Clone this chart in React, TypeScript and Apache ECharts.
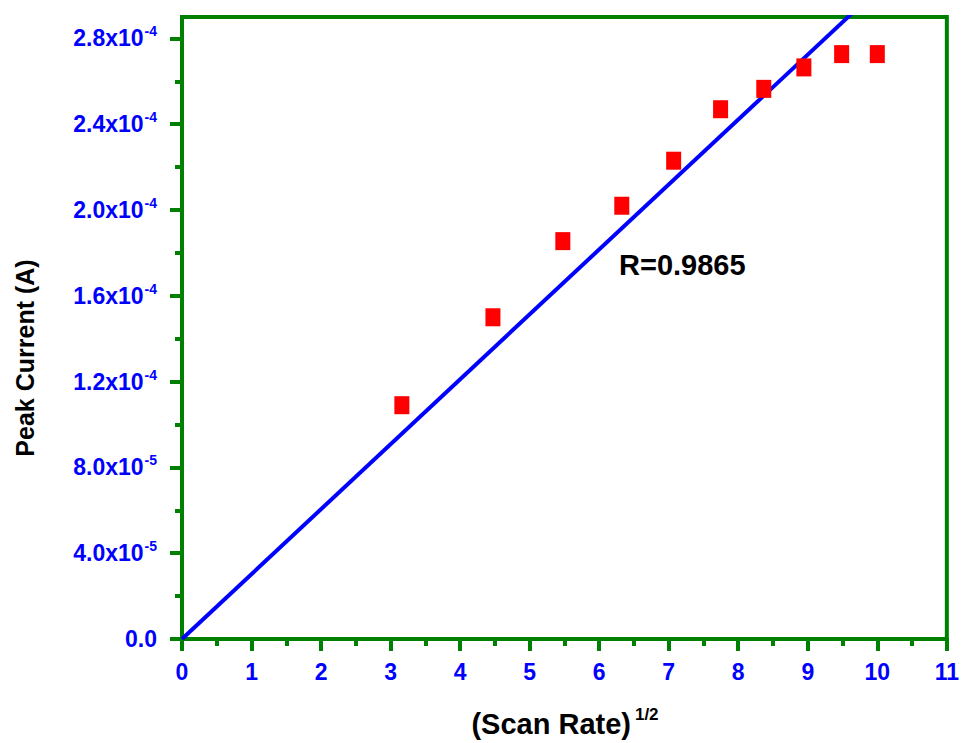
import React, { useEffect, useRef } from "react";
import * as echarts from "echarts";

// (Scan Rate)^1/2 for 10..100 mV/s
const sqrtScanRate = [3.162, 4.472, 5.477, 6.325, 7.071, 7.746, 8.367, 8.944, 9.487, 10];
// Peak current (A)
const peakCurrent = [1.09e-4, 1.50e-4, 1.855e-4, 2.02e-4, 2.23e-4, 2.47e-4, 2.565e-4, 2.665e-4, 2.727e-4, 2.727e-4];
// Linear fit through the origin (end points)
const fitLine = [
  [0, 0],
  [11, 3.33e-4],
];
const yMajorTicks = [0, 4e-5, 8e-5, 1.2e-4, 1.6e-4, 2.0e-4, 2.4e-4, 2.8e-4];
const yMinorTicks = [2e-5, 6e-5, 1.0e-4, 1.4e-4, 1.8e-4, 2.2e-4, 2.6e-4];
const rText = "R=0.9865";

const FONT = "'Liberation Sans', Arial, sans-serif";
const GREEN = "#008000";
const BLUE = "#0000ff";

function formatY(v: number): string {
  if (Math.abs(v) < 1e-12) return "{b|0.0}";
  const exp = Math.floor(Math.log10(v) + 1e-9);
  const mant = v / Math.pow(10, exp);
  return `{b|${mant.toFixed(1)}x10}{s|${exp}}`;
}

export default function App() {
  const ref = useRef<HTMLDivElement>(null);

  useEffect(() => {
    if (!ref.current) return;
    const chart = echarts.init(ref.current, null, { renderer: "svg" });
    const points = sqrtScanRate.map((x, i) => [x, peakCurrent[i]]);

    chart.setOption({
      animation: false,
      backgroundColor: "#ffffff",
      grid: {
        left: 182,
        right: 14,
        top: 17,
        bottom: 104,
        show: true,
        borderColor: GREEN,
        borderWidth: 4,
      },
      xAxis: {
        type: "value",
        min: 0,
        max: 11,
        interval: 1,
        axisLine: { show: true, onZero: false, lineStyle: { color: GREEN, width: 4 } },
        axisTick: { show: true, length: 12, lineStyle: { color: GREEN, width: 4 } },
        minorTick: { show: true, splitNumber: 2, length: 7, lineStyle: { color: GREEN, width: 4 } },
        splitLine: { show: false },
        axisLabel: {
          margin: 21,
          color: BLUE,
          fontSize: 23,
          fontWeight: "bold",
          fontFamily: FONT,
        },
      },
      yAxis: [
        {
          type: "value",
          min: 0,
          max: 2.9e-4,
          position: "left",
          axisLine: { show: true, onZero: false, lineStyle: { color: GREEN, width: 4 } },
          axisTick: {
            show: true,
            length: 12,
            customValues: yMajorTicks,
            lineStyle: { color: GREEN, width: 4 },
          },
          splitLine: { show: false },
          axisLabel: {
            margin: 25,
            customValues: yMajorTicks,
            formatter: (v: number) => formatY(v),
            rich: {
              b: { color: BLUE, fontSize: 23, fontWeight: "bold", fontFamily: FONT },
              s: {
                color: BLUE,
                fontSize: 14,
                fontWeight: "bold",
                fontFamily: FONT,
                padding: [0, 0, 14, 1],
              },
            },
          },
        },
        {
          type: "value",
          min: 0,
          max: 2.9e-4,
          position: "left",
          axisLine: { show: false },
          axisLabel: { show: false },
          splitLine: { show: false },
          axisTick: {
            show: true,
            length: 7,
            customValues: yMinorTicks,
            lineStyle: { color: GREEN, width: 4 },
          },
        },
      ],
      series: [
        {
          type: "line",
          data: fitLine,
          showSymbol: false,
          symbol: "none",
          clip: true,
          lineStyle: { color: BLUE, width: 4 },
          z: 2,
        },
        {
          type: "scatter",
          data: points,
          symbol: "rect",
          symbolSize: [15, 18],
          itemStyle: { color: "#ff0000", opacity: 1 },
          z: 3,
        },
      ],
      graphic: [
        {
          type: "text",
          left: 619,
          top: 250,
          style: {
            text: rText,
            font: `bold 29px ${FONT}`,
            fill: "#000000",
          },
        },
        {
          type: "text",
          x: 25,
          y: 358,
          rotation: Math.PI / 2,
          style: {
            text: "Peak Current (A)",
            font: `bold 25px ${FONT}`,
            fill: "#000000",
            align: "center",
            verticalAlign: "middle",
          },
        },
        {
          type: "text",
          x: 565,
          y: 724,
          style: {
            text: "{t|(Scan Rate)}{s|1/2}",
            align: "center",
            verticalAlign: "middle",
            rich: {
              t: { fontSize: 29, fontWeight: "bold", fontFamily: FONT, color: "#000000" },
              s: {
                fontSize: 17,
                fontWeight: "bold",
                fontFamily: FONT,
                color: "#000000",
                padding: [0, 0, 20, 4],
              },
            },
          },
        },
      ],
    });

    return () => chart.dispose();
  }, []);

  return (
    <div
      ref={ref}
      style={{ position: "fixed", left: 0, top: 0, width: 962, height: 743, background: "#fff" }}
    />
  );
}
